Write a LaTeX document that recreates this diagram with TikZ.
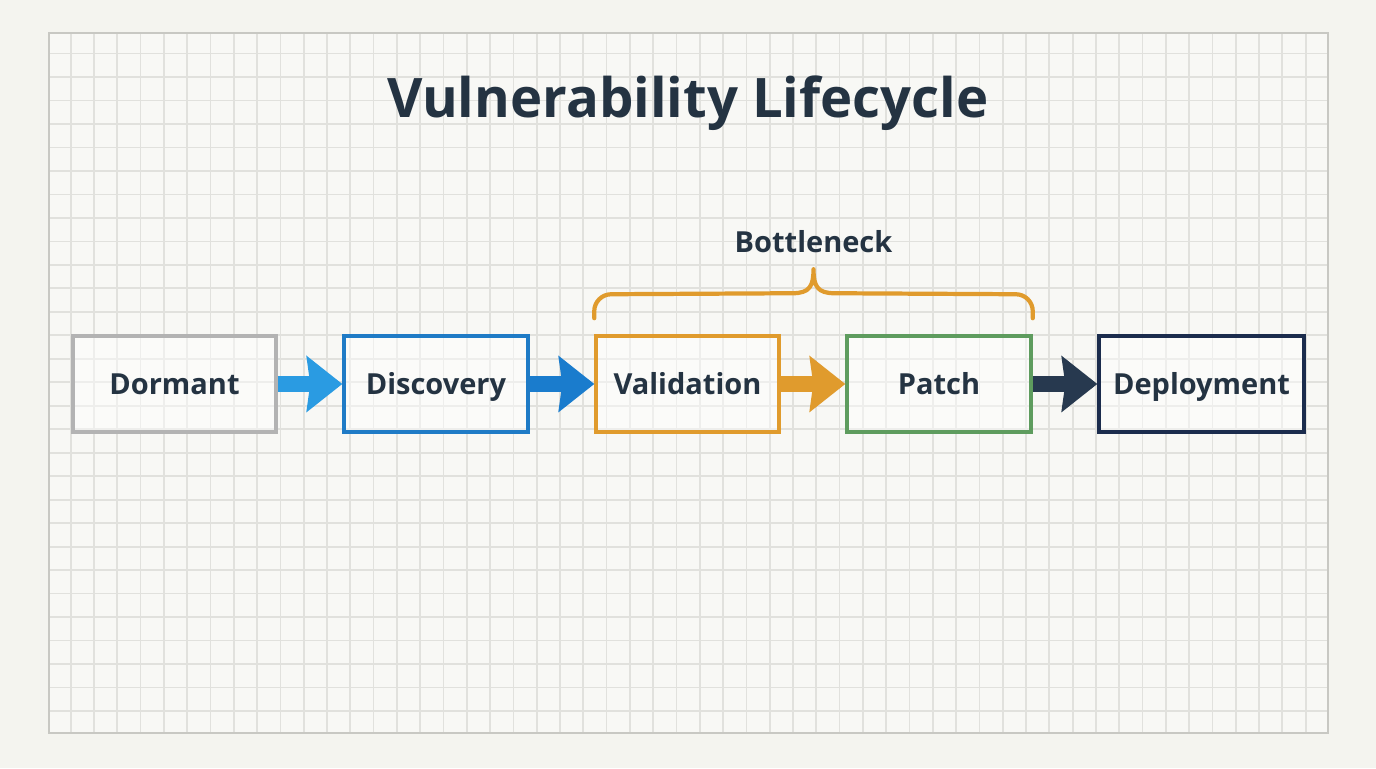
\documentclass[tikz,border=0pt]{standalone}
\usepackage{fontspec}
\setmainfont{Open Sans}
\usetikzlibrary{arrows.meta,calc}

\definecolor{paper}{HTML}{F4F4EF}
\definecolor{sheet}{HTML}{F8F8F5}
\definecolor{gridline}{HTML}{E1E1DD}
\definecolor{frameline}{HTML}{C8C8C3}
\definecolor{ink}{HTML}{243342}
\definecolor{dormantgray}{HTML}{B3B3B3}
\definecolor{discblue}{HTML}{1F7BC6}
\definecolor{valorange}{HTML}{E09B2D}
\definecolor{patchgreen}{HTML}{5E9C5E}
\definecolor{deploynavy}{HTML}{1B2C4D}
\definecolor{arrowlight}{HTML}{2A9BE2}
\definecolor{arrowblue}{HTML}{1A7CCD}
\definecolor{arrownavy}{HTML}{27394F}

\tikzset{
  stage/.style={draw=#1, line width=2pt, fill=white, fill opacity=0.45, text opacity=1,
    minimum height=1.92cm, inner sep=0pt, text height=12pt, text depth=0pt,
    text=ink, font=\fontsize{16.5}{20}\selectfont\bfseries},
  flow/.style={draw=#1, line width=0.33cm,
    -{Stealth[length=0.72cm, width=1.14cm, inset=0.08cm, line width=0pt]}},
  brace/.style={draw=valorange, line width=2.4pt, line cap=round, line join=round},
}

\begin{document}
\begin{tikzpicture}
    \useasboundingbox[fill=paper] (0,0) rectangle (27.52,15.36);

    % graph paper
    \fill[sheet] (0.98,0.70) rectangle (26.56,14.70);
    \foreach \i in {0,...,53}
        \draw[gridline, line width=1pt] ({1.414+0.466*\i},0.70) -- ++(0,14.0);
    \foreach \j in {0,...,28}
        \draw[gridline, line width=1pt] (0.98,{1.14+0.4696*\j}) -- ++(25.58,0);
    \draw[frameline, line width=1.2pt] (0.98,0.70) rectangle (26.56,14.70);

    \node[text=ink, font=\fontsize{31}{38}\selectfont\bfseries] (title) at (13.76,13.30) {Vulnerability Lifecycle};

    % stages
    \node[stage=dormantgray, minimum width=4.06cm] (dormant) at (3.49,7.68) {Dormant};
    \node[stage=discblue, minimum width=3.68cm] (discovery) at (8.72,7.68) {Discovery};
    \node[stage=valorange, minimum width=3.66cm] (validation) at (13.75,7.68) {Validation};
    \node[stage=patchgreen, minimum width=3.68cm] (patch) at (18.78,7.68) {Patch};
    \node[stage=deploynavy, minimum width=4.10cm] (deployment) at (24.03,7.68) {Deployment};

    \draw[flow=arrowlight] (dormant.east) -- (discovery.west);
    \draw[flow=arrowblue] (discovery.east) -- (validation.west);
    \draw[flow=valorange] (validation.east) -- (patch.west);
    \draw[flow=arrownavy] (patch.east) -- (deployment.west);

    %brace over validation and patch
    \coordinate (bl) at ($(validation.north west)+(0,0.32)$);
    \coordinate (br) at ($(patch.north east)+(0,0.32)$);
    \coordinate (tip) at ($(bl)!0.5!(br)+(0,0.98)$);
    \draw[brace] (bl) -- ++(0,0.14) arc[start angle=180, end angle=90, radius=0.34]
        -- ($(tip)+(-0.42,-0.48)$) .. controls ($(tip)+(-0.08,-0.48)$) and ($(tip)+(0,-0.34)$) .. (tip)
        .. controls ($(tip)+(0,-0.34)$) and ($(tip)+(0.08,-0.48)$) .. ($(tip)+(0.42,-0.48)$)
        -- ($(br)+(-0.34,0.48)$) arc[start angle=90, end angle=0, radius=0.34] -- (br);
    \node[text=ink, font=\fontsize{16.5}{20}\selectfont\bfseries] (bottleneck) at ($(tip)+(0,0.56)$) {Bottleneck};
\end{tikzpicture}
\end{document}
